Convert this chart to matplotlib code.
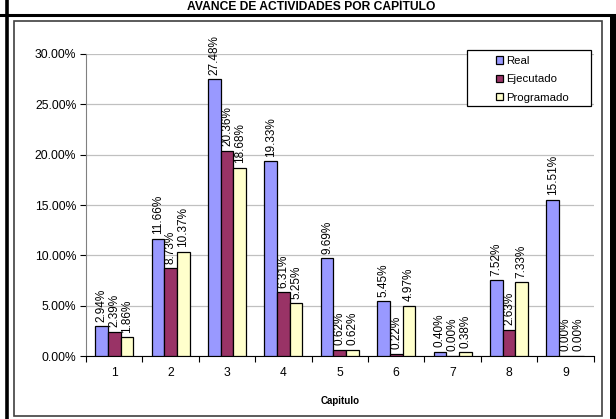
import numpy as np
import matplotlib
matplotlib.use('Agg')
import matplotlib.pyplot as plt
from matplotlib.patches import Rectangle
from matplotlib.lines import Line2D

plt.rcParams['font.family'] = ['Liberation Sans', 'DejaVu Sans']

capitulos = ['1', '2', '3', '4', '5', '6', '7', '8', '9']
real = [2.94, 11.66, 27.48, 19.33, 9.69, 5.45, 0.40, 7.52, 15.51]
ejecutado = [2.39, 8.73, 20.36, 6.31, 0.62, 0.22, 0.00, 2.63, 0.00]
programado = [1.86, 10.37, 18.68, 5.25, 0.62, 4.97, 0.38, 7.33, 0.00]
series = ['Real', 'Ejecutado', 'Programado']
colores = ['#9999FF', '#993366', '#FFFFCC']

W, H = 616, 419
fig = plt.figure(figsize=(W / 100, H / 100), dpi=100)

def px(x, y):
    # pixel coords (top-left origin) -> figure fraction
    return x / W, 1 - y / H

# sheet frame
fig.add_artist(Line2D([0, 1], [px(0, 15.5)[1]] * 2, color='black', lw=2.2))
fig.add_artist(Line2D([px(6.5, 0)[0]] * 2, [0, 1], color='black', lw=2.6))
fig.add_artist(Rectangle(px(610, 419), 6 / W, (419 - 16) / H, color='black', lw=0))
fig.add_artist(Rectangle(px(13.5, 416), (601.5 - 13.5) / W, (416 - 21.5) / H,
                         fill=False, edgecolor='#404040', lw=1.2))
fig.text(px(311, 0)[0], px(0, 7.5)[1], 'AVANCE DE ACTIVIDADES POR CAPÍTULO',
         ha='center', va='center', fontsize=8.7, fontweight='bold')

ax = fig.add_axes([86 / W, (419 - 356) / H, (593.6 - 86) / W, (356 - 54) / H])

x = np.arange(1, len(capitulos) + 1)
w = 1 / 4.45
datos = [real, ejecutado, programado]
for i, (vals, nombre, col) in enumerate(zip(datos, series, colores)):
    pos = x + (i - 1) * w
    ax.bar(pos, np.array(vals) / 100, w, color=col, edgecolor='black', lw=0.9,
           label=nombre, zorder=3)
    for p, v in zip(pos, vals):
        ax.annotate('%.2f%%' % v, (p, v / 100), xytext=(0, 3.3), textcoords='offset points',
                    rotation=90, ha='center', va='bottom', fontsize=8.5, zorder=4,
                    annotation_clip=False)

ax.set_xlim(0.5, 9.5)
ax.set_ylim(0, 0.30)
ax.set_yticks(np.arange(0, 0.301, 0.05))
ax.set_yticklabels(['%.2f%%' % (t * 100) for t in np.arange(0, 0.301, 0.05)], fontsize=8.7)
ax.set_xticks(x)
ax.set_xticklabels(capitulos, fontsize=8.7)
ax.set_xticks(np.arange(0.5, 9.6, 1), minor=True)
ax.tick_params(axis='x', which='major', length=0, pad=8)
ax.tick_params(axis='x', which='minor', length=4, color='black', width=0.8)
ax.tick_params(axis='y', length=4, color='black', width=0.8, pad=3)
ax.grid(axis='y', color='#C0C0C0', lw=0.9, zorder=0)
for s in ['top', 'right']:
    ax.spines[s].set_visible(False)
ax.spines['left'].set_color('#808080')
ax.spines['bottom'].set_color('black')
ax.set_xlabel('Capitulo', fontsize=7, fontweight='bold', labelpad=12.5)

# legend box drawn separately (Excel leaves wide padding around entries)
ax.add_patch(Rectangle((0.7506, 0.8278), 0.2443, 0.1854, transform=ax.transAxes,
                       facecolor='white', edgecolor='black', lw=0.9, zorder=5,
                       clip_on=False))
leg = ax.legend(loc='upper left', bbox_to_anchor=(0.8077, 0.993), fontsize=8.2,
                frameon=False, borderpad=0, borderaxespad=0,
                handlelength=0.6, handleheight=0.6, handletextpad=0.3, labelspacing=0.72)
leg.set_zorder(6)
for h in leg.legend_handles:
    h.set_edgecolor('black')
    h.set_linewidth(0.9)

fig.savefig('out.png', dpi=100)
